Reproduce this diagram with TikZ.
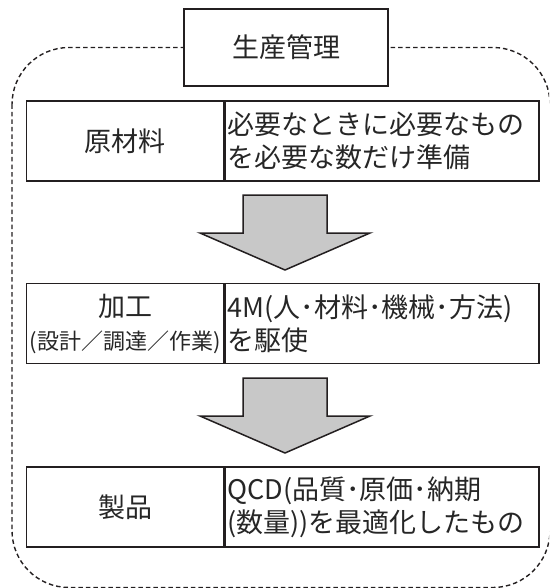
\documentclass[tikz,border=0pt]{standalone}
\usepackage{fontspec}
\setmainfont{Noto Sans CJK JP}
\usetikzlibrary{positioning,calc}
\definecolor{linegray}{RGB}{35,31,32}
\definecolor{arrowgray}{RGB}{200,200,200}

\begin{document}
\begin{tikzpicture}[x=1pt, y=-1pt, font=\fontsize{27}{33}\selectfont, text=black!85]
    % スタイル
    \tikzstyle{cell} = [rectangle, draw=linegray, line width=1.5pt, minimum width=197pt, minimum height=80pt, inner sep=0pt, align=center]
    \tikzstyle{note} = [rectangle, draw=linegray, line width=1.5pt, text width=309pt, minimum height=80pt, inner xsep=2.5pt, inner ysep=0pt, align=left]
    \tikzstyle{titlebox} = [rectangle, draw=linegray, line width=1.5pt, fill=white, minimum width=204pt, minimum height=77pt]
    \tikzstyle{bigarrow} = [draw=linegray, line width=1.5pt, fill=arrowgray, line join=miter]
    \tikzstyle{frame} = [draw=linegray, line width=1.4pt, dash pattern=on 4.5pt off 3pt, rounded corners=57pt]

    \clip (0,0) rectangle (549,588);

    % 枠
    \draw[frame] (12,47.5) rectangle (550,587.5);
    \node[titlebox] (title) at (286,47.5) {生産管理};

    % 工程
    \node[cell] (raw) at (125,141) {原材料};
    \node[note, right=0pt of raw] (rawnote) {必要なときに必要なもの\\を必要な数だけ準備};

    \node[cell] (proc) at (125,323.5) {加工\\{\fontsize{22}{33}\selectfont (設計／調達／作業)}};
    \node[note, right=0pt of proc] (procnote) {4M(人･材料･機械･方法)\\を駆使};

    \node[cell] (prod) at (125,507) {製品};
    \node[note, right=0pt of prod] (prodnote) {QCD(品質･原価･納期\\(数量))を最適化したもの};

    % 矢印
    \draw[bigarrow] (243,195) -- (327,195) -- (327,233) -- (370,233) -- (285,270) -- (200,233) -- (243,233) -- cycle;
    \draw[bigarrow] (243,378) -- (327,378) -- (327,416) -- (370,416) -- (285,453) -- (200,416) -- (243,416) -- cycle;
\end{tikzpicture}
\end{document}
